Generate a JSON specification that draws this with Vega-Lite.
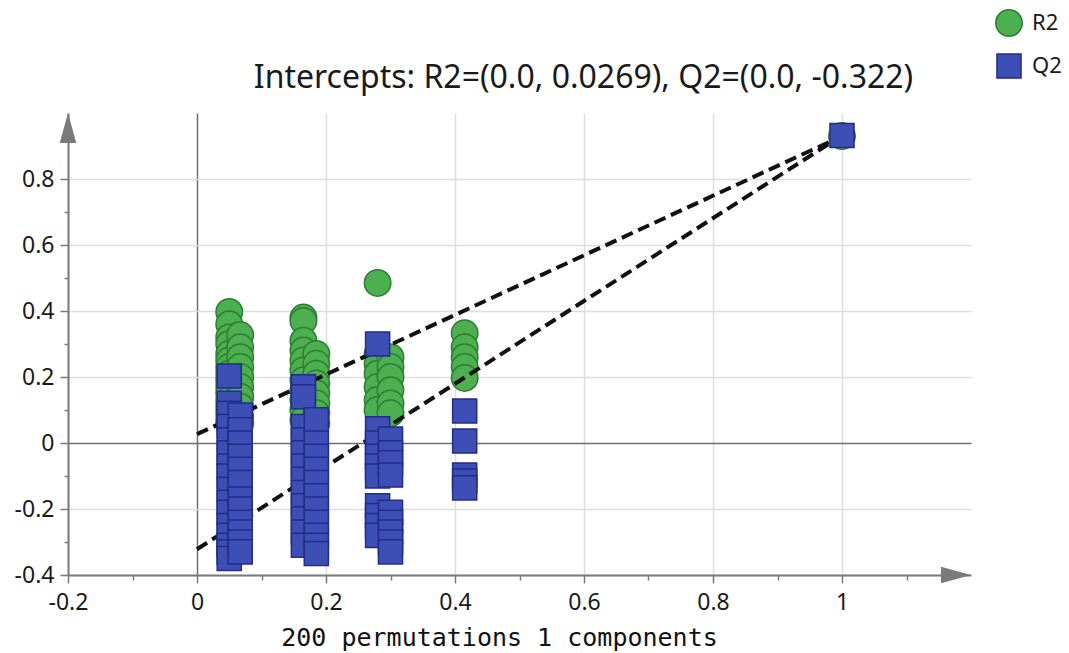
{
  "$schema": "https://vega.github.io/schema/vega-lite/v6.json",
  "width": 903,
  "height": 462,
  "autosize": {"type": "none"},
  "padding": {"left": 68, "top": 113, "right": 98, "bottom": 78},
  "background": "white",
  "title": {
    "text": "Intercepts: R2=(0.0, 0.0269), Q2=(0.0, -0.322)",
    "font": "Noto Sans",
    "fontSize": 32,
    "fontWeight": "normal",
    "color": "#1a1a1a",
    "anchor": "middle",
    "dx": 64,
    "dy": 102,
    "offset": 16
  },
  "config": {
    "view": {"stroke": null},
    "legend": {"labelFont": "Noto Sans", "labelFontSize": 22, "labelColor": "#1a1a1a"}
  },
  "datasets": {
    "pts": [
      {"x": 0.05, "y": 0.397, "series": "R2"}, {"x": 0.05, "y": 0.36, "series": "R2"}, {"x": 0.05, "y": 0.32, "series": "R2"}, {"x": 0.05, "y": 0.30, "series": "R2"},
      {"x": 0.05, "y": 0.27, "series": "R2"}, {"x": 0.05, "y": 0.25, "series": "R2"}, {"x": 0.05, "y": 0.23, "series": "R2"}, {"x": 0.05, "y": 0.21, "series": "R2"},
      {"x": 0.05, "y": 0.19, "series": "R2"}, {"x": 0.05, "y": 0.17, "series": "R2"}, {"x": 0.05, "y": 0.15, "series": "R2"}, {"x": 0.05, "y": 0.13, "series": "R2"},
      {"x": 0.05, "y": 0.11, "series": "R2"}, {"x": 0.05, "y": 0.09, "series": "R2"}, {"x": 0.05, "y": 0.07, "series": "R2"}, {"x": 0.05, "y": 0.055, "series": "R2"},
      {"x": 0.067, "y": 0.327, "series": "R2"}, {"x": 0.067, "y": 0.29, "series": "R2"}, {"x": 0.067, "y": 0.26, "series": "R2"}, {"x": 0.067, "y": 0.23, "series": "R2"},
      {"x": 0.067, "y": 0.20, "series": "R2"}, {"x": 0.067, "y": 0.17, "series": "R2"}, {"x": 0.067, "y": 0.14, "series": "R2"}, {"x": 0.067, "y": 0.11, "series": "R2"},
      {"x": 0.067, "y": 0.08, "series": "R2"}, {"x": 0.067, "y": 0.06, "series": "R2"},
      {"x": 0.165, "y": 0.38, "series": "R2"}, {"x": 0.165, "y": 0.37, "series": "R2"}, {"x": 0.165, "y": 0.31, "series": "R2"}, {"x": 0.165, "y": 0.28, "series": "R2"},
      {"x": 0.165, "y": 0.25, "series": "R2"}, {"x": 0.165, "y": 0.22, "series": "R2"}, {"x": 0.165, "y": 0.19, "series": "R2"}, {"x": 0.165, "y": 0.16, "series": "R2"},
      {"x": 0.165, "y": 0.13, "series": "R2"}, {"x": 0.165, "y": 0.10, "series": "R2"}, {"x": 0.165, "y": 0.07, "series": "R2"},
      {"x": 0.185, "y": 0.27, "series": "R2"}, {"x": 0.185, "y": 0.24, "series": "R2"}, {"x": 0.185, "y": 0.21, "series": "R2"}, {"x": 0.185, "y": 0.18, "series": "R2"},
      {"x": 0.185, "y": 0.15, "series": "R2"}, {"x": 0.185, "y": 0.12, "series": "R2"}, {"x": 0.185, "y": 0.09, "series": "R2"}, {"x": 0.185, "y": 0.06, "series": "R2"},
      {"x": 0.28, "y": 0.485, "series": "R2"}, {"x": 0.28, "y": 0.27, "series": "R2"}, {"x": 0.28, "y": 0.24, "series": "R2"}, {"x": 0.28, "y": 0.21, "series": "R2"},
      {"x": 0.28, "y": 0.17, "series": "R2"}, {"x": 0.28, "y": 0.13, "series": "R2"}, {"x": 0.28, "y": 0.10, "series": "R2"},
      {"x": 0.30, "y": 0.26, "series": "R2"}, {"x": 0.30, "y": 0.23, "series": "R2"}, {"x": 0.30, "y": 0.20, "series": "R2"}, {"x": 0.30, "y": 0.16, "series": "R2"},
      {"x": 0.30, "y": 0.12, "series": "R2"}, {"x": 0.30, "y": 0.09, "series": "R2"},
      {"x": 0.415, "y": 0.333, "series": "R2"}, {"x": 0.415, "y": 0.29, "series": "R2"}, {"x": 0.415, "y": 0.26, "series": "R2"}, {"x": 0.415, "y": 0.23, "series": "R2"},
      {"x": 0.415, "y": 0.197, "series": "R2"},
      {"x": 1.0, "y": 0.93, "series": "R2"},
      {"x": 0.05, "y": 0.203, "series": "Q2"}, {"x": 0.05, "y": 0.12, "series": "Q2"}, {"x": 0.05, "y": 0.09, "series": "Q2"}, {"x": 0.05, "y": 0.05, "series": "Q2"},
      {"x": 0.05, "y": 0.01, "series": "Q2"}, {"x": 0.05, "y": -0.03, "series": "Q2"}, {"x": 0.05, "y": -0.07, "series": "Q2"}, {"x": 0.05, "y": -0.10, "series": "Q2"},
      {"x": 0.05, "y": -0.14, "series": "Q2"}, {"x": 0.05, "y": -0.18, "series": "Q2"}, {"x": 0.05, "y": -0.21, "series": "Q2"}, {"x": 0.05, "y": -0.25, "series": "Q2"},
      {"x": 0.05, "y": -0.28, "series": "Q2"}, {"x": 0.05, "y": -0.31, "series": "Q2"}, {"x": 0.05, "y": -0.33, "series": "Q2"}, {"x": 0.05, "y": -0.35, "series": "Q2"},
      {"x": 0.067, "y": 0.085, "series": "Q2"}, {"x": 0.067, "y": 0.04, "series": "Q2"}, {"x": 0.067, "y": 0.0, "series": "Q2"}, {"x": 0.067, "y": -0.04, "series": "Q2"},
      {"x": 0.067, "y": -0.08, "series": "Q2"}, {"x": 0.067, "y": -0.12, "series": "Q2"}, {"x": 0.067, "y": -0.17, "series": "Q2"}, {"x": 0.067, "y": -0.20, "series": "Q2"},
      {"x": 0.067, "y": -0.24, "series": "Q2"}, {"x": 0.067, "y": -0.27, "series": "Q2"}, {"x": 0.067, "y": -0.30, "series": "Q2"}, {"x": 0.067, "y": -0.33, "series": "Q2"},
      {"x": 0.165, "y": 0.17, "series": "Q2"}, {"x": 0.165, "y": 0.14, "series": "Q2"}, {"x": 0.165, "y": 0.05, "series": "Q2"}, {"x": 0.165, "y": 0.01, "series": "Q2"},
      {"x": 0.165, "y": -0.03, "series": "Q2"}, {"x": 0.165, "y": -0.07, "series": "Q2"}, {"x": 0.165, "y": -0.11, "series": "Q2"}, {"x": 0.165, "y": -0.15, "series": "Q2"},
      {"x": 0.165, "y": -0.19, "series": "Q2"}, {"x": 0.165, "y": -0.23, "series": "Q2"}, {"x": 0.165, "y": -0.27, "series": "Q2"}, {"x": 0.165, "y": -0.31, "series": "Q2"},
      {"x": 0.185, "y": 0.07, "series": "Q2"}, {"x": 0.185, "y": 0.0, "series": "Q2"}, {"x": 0.185, "y": -0.04, "series": "Q2"}, {"x": 0.185, "y": -0.08, "series": "Q2"},
      {"x": 0.185, "y": -0.12, "series": "Q2"}, {"x": 0.185, "y": -0.16, "series": "Q2"}, {"x": 0.185, "y": -0.20, "series": "Q2"}, {"x": 0.185, "y": -0.24, "series": "Q2"},
      {"x": 0.185, "y": -0.28, "series": "Q2"}, {"x": 0.185, "y": -0.31, "series": "Q2"}, {"x": 0.185, "y": -0.335, "series": "Q2"},
      {"x": 0.28, "y": 0.30, "series": "Q2"}, {"x": 0.28, "y": 0.043, "series": "Q2"}, {"x": 0.28, "y": 0.0, "series": "Q2"}, {"x": 0.28, "y": -0.04, "series": "Q2"},
      {"x": 0.28, "y": -0.07, "series": "Q2"}, {"x": 0.28, "y": -0.10, "series": "Q2"}, {"x": 0.28, "y": -0.19, "series": "Q2"}, {"x": 0.28, "y": -0.22, "series": "Q2"},
      {"x": 0.28, "y": -0.25, "series": "Q2"}, {"x": 0.28, "y": -0.28, "series": "Q2"},
      {"x": 0.30, "y": 0.012, "series": "Q2"}, {"x": 0.30, "y": -0.03, "series": "Q2"}, {"x": 0.30, "y": -0.06, "series": "Q2"}, {"x": 0.30, "y": -0.097, "series": "Q2"},
      {"x": 0.30, "y": -0.21, "series": "Q2"}, {"x": 0.30, "y": -0.24, "series": "Q2"}, {"x": 0.30, "y": -0.27, "series": "Q2"}, {"x": 0.30, "y": -0.30, "series": "Q2"},
      {"x": 0.30, "y": -0.33, "series": "Q2"},
      {"x": 0.415, "y": 0.097, "series": "Q2"}, {"x": 0.415, "y": 0.006, "series": "Q2"}, {"x": 0.415, "y": -0.097, "series": "Q2"}, {"x": 0.415, "y": -0.115, "series": "Q2"},
      {"x": 0.415, "y": -0.136, "series": "Q2"},
      {"x": 1.0, "y": 0.932, "series": "Q2"}
    ],
    "lines": [
      {"line": "R2", "x": 0.0, "y": 0.0269}, {"line": "R2", "x": 1.0, "y": 0.93},
      {"line": "Q2", "x": 0.0, "y": -0.322}, {"line": "Q2", "x": 1.0, "y": 0.932}
    ],
    "arrowUp": [{"x": -0.2, "y": 1.0}],
    "arrowRight": [{"x": 1.2, "y": -0.4}]
  },
  "encoding": {
    "x": {
      "field": "x",
      "type": "quantitative",
      "scale": {"domain": [-0.2, 1.2], "nice": false, "zero": false},
      "axis": {
        "values": [-0.2, -0.1, 0, 0.1, 0.2, 0.3, 0.4, 0.5, 0.6, 0.7, 0.8, 0.9, 1.0, 1.1],
        "labelExpr": "round(datum.value*10) % 2 == 0 ? '' + round(datum.value*10)/10 : ''",
        "labelFont": "Noto Sans",
        "labelFontSize": 23,
        "labelColor": "#1a1a1a",
        "labelPadding": 8,
        "labelFlush": false,
        "labelOverlap": false,
        "tickSize": {"condition": {"test": "round(datum.value*10) % 2 == 0", "value": 8}, "value": 5},
        "tickColor": "#7a7a7a",
        "tickWidth": 1.5,
        "domainColor": "#7a7a7a",
        "domainWidth": 2,
        "grid": true,
        "gridColor": {"condition": {"test": "abs(datum.value) < 1e-9", "value": "#6e6e6e"}, "value": "#dddddd"},
        "gridOpacity": {"condition": {"test": "round(datum.value*10) % 2 == 0", "value": 1}, "value": 0},
        "gridWidth": 1.5,
        "title": "200 permutations 1 components",
        "titleFont": "DejaVu Sans Mono",
        "titleFontSize": 25,
        "titleFontWeight": "normal",
        "titleColor": "#111111",
        "titleX": 431,
        "titleY": 70,
        "titleBaseline": "alphabetic",
        "titleAnchor": "middle"
      }
    },
    "y": {
      "field": "y",
      "type": "quantitative",
      "scale": {"domain": [-0.4, 1.0], "nice": false, "zero": false},
      "axis": {
        "values": [-0.4, -0.3, -0.2, -0.1, 0, 0.1, 0.2, 0.3, 0.4, 0.5, 0.6, 0.7, 0.8],
        "labelExpr": "round(datum.value*10) % 2 == 0 ? '' + round(datum.value*10)/10 : ''",
        "labelFont": "Noto Sans",
        "labelFontSize": 23,
        "labelColor": "#1a1a1a",
        "labelPadding": 6,
        "labelFlush": false,
        "labelOverlap": false,
        "tickSize": {"condition": {"test": "round(datum.value*10) % 2 == 0", "value": 8}, "value": 4},
        "tickColor": "#7a7a7a",
        "tickWidth": 1.5,
        "domainColor": "#7a7a7a",
        "domainWidth": 2,
        "grid": true,
        "gridColor": {"condition": {"test": "abs(datum.value) < 1e-9", "value": "#6e6e6e"}, "value": "#dddddd"},
        "gridOpacity": {"condition": {"test": "round(datum.value*10) % 2 == 0", "value": 1}, "value": 0},
        "gridWidth": 1.5,
        "title": null
      }
    }
  },
  "layer": [
    {
      "data": {"name": "pts"},
      "transform": [{"filter": "datum.series == 'R2'"}],
      "mark": {"type": "point", "filled": true, "strokeWidth": 1.5, "opacity": 1},
      "encoding": {
        "shape": {"field": "series", "type": "nominal", "scale": {"domain": ["R2", "Q2"], "range": ["circle", "square"]},
          "legend": {"title": null, "orient": "none", "legendX": 927, "legendY": -104, "rowPadding": 10, "labelOffset": 9}},
        "fill": {"field": "series", "type": "nominal", "scale": {"domain": ["R2", "Q2"], "range": ["#4caf50", "#3d4fb5"]},
          "legend": {"title": null, "orient": "none", "legendX": 927, "legendY": -104, "rowPadding": 10, "labelOffset": 9}},
        "stroke": {"field": "series", "type": "nominal", "scale": {"domain": ["R2", "Q2"], "range": ["#2e7d32", "#222c8a"]},
          "legend": {"title": null, "orient": "none", "legendX": 927, "legendY": -104, "rowPadding": 10, "labelOffset": 9}},
        "size": {"field": "series", "type": "nominal", "scale": {"domain": ["R2", "Q2"], "range": [700, 580]},
          "legend": {"title": null, "orient": "none", "legendX": 927, "legendY": -104, "rowPadding": 10, "labelOffset": 9}}
      }
    },
    {
      "data": {"name": "lines"},
      "mark": {"type": "line", "color": "#111111", "strokeWidth": 4, "strokeDash": [12, 6]},
      "encoding": {"detail": {"field": "line", "type": "nominal"}}
    },
    {
      "data": {"name": "pts"},
      "transform": [{"filter": "datum.series == 'Q2'"}],
      "mark": {"type": "point", "filled": true, "strokeWidth": 1.5, "opacity": 1},
      "encoding": {
        "shape": {"field": "series", "type": "nominal", "scale": {"domain": ["R2", "Q2"], "range": ["circle", "square"]},
          "legend": {"title": null, "orient": "none", "legendX": 927, "legendY": -104, "rowPadding": 10, "labelOffset": 9}},
        "fill": {"field": "series", "type": "nominal", "scale": {"domain": ["R2", "Q2"], "range": ["#4caf50", "#3d4fb5"]},
          "legend": {"title": null, "orient": "none", "legendX": 927, "legendY": -104, "rowPadding": 10, "labelOffset": 9}},
        "stroke": {"field": "series", "type": "nominal", "scale": {"domain": ["R2", "Q2"], "range": ["#2e7d32", "#222c8a"]},
          "legend": {"title": null, "orient": "none", "legendX": 927, "legendY": -104, "rowPadding": 10, "labelOffset": 9}},
        "size": {"field": "series", "type": "nominal", "scale": {"domain": ["R2", "Q2"], "range": [700, 580]},
          "legend": {"title": null, "orient": "none", "legendX": 927, "legendY": -104, "rowPadding": 10, "labelOffset": 9}}
      }
    },
    {
      "data": {"name": "arrowUp"},
      "mark": {"type": "point", "shape": "M0,0L0.55,2L-0.55,2Z", "size": 900, "filled": true, "color": "#7a7a7a", "opacity": 1, "strokeWidth": 0}
    },
    {
      "data": {"name": "arrowRight"},
      "mark": {"type": "point", "shape": "M0,0L-2,0.55L-2,-0.55Z", "size": 900, "filled": true, "color": "#7a7a7a", "opacity": 1, "strokeWidth": 0}
    }
  ]
}
